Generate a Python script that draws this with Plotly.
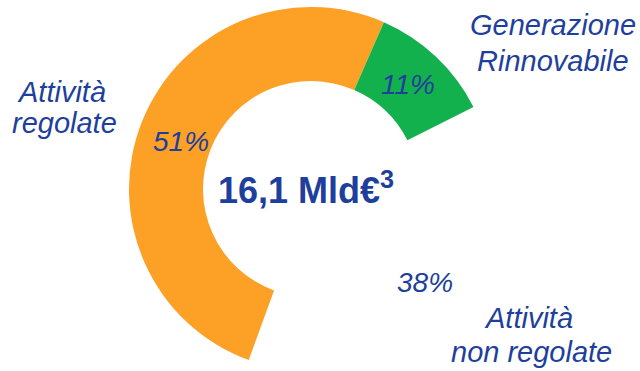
import plotly.graph_objects as go

W, H = 640, 371

# Data
categories = ["Attività regolate", "Attività non regolate", "Generazione Rinnovabile"]
shares = [51, 38, 11]
pct_labels = ["51%", "38%", "11%"]
total_label = "16,1 Mld€<sup>3</sup>"

slice_colors = ["#FCA126", "rgba(0,0,0,0)", "#13B14E"]
TXT = "#1E3F9B"
FONT = "Liberation Sans, Arial, sans-serif"

def px(x):
    return x / W

def py(y):
    return 1 - y / H

cx, R = 311, 182
cy = H - R  # pie centre so that the domain can start at the bottom edge

fig = go.Figure(go.Pie(
    labels=categories,
    values=shares,
    sort=False,
    direction="counterclockwise",
    rotation=200,
    hole=108 / R,
    textinfo="none",
    hoverinfo="label+percent",
    marker=dict(colors=slice_colors, line=dict(width=0)),
    domain=dict(x=[px(cx - R), px(cx + R)], y=[0, py(cy - R)]),
    showlegend=False,
))

def add_text(text, x, baseline, size, bold=False, italic=True):
    t = text
    if bold:
        t = "<b>" + t + "</b>"
    if italic:
        t = "<i>" + t + "</i>"
    fig.add_annotation(
        text=t, x=px(x), y=py(baseline - 0.36 * size),
        xref="paper", yref="paper", xanchor="center", yanchor="middle",
        showarrow=False, font=dict(family=FONT, size=size, color=TXT),
    )

FS = 29
# category labels (one line each)
add_text("Attività", 61, 102, FS)
add_text("regolate", 64, 133, FS)
add_text("Generazione", 553, 35, FS)
add_text("Rinnovabile", 553, 71, FS)
add_text("Attività", 528, 328, FS)
add_text("non regolate", 531, 362, FS)
# percentages
add_text(pct_labels[0], 181, 152, 28)
add_text(pct_labels[2], 408, 95, 28)
add_text(pct_labels[1], 425, 293, 28)
# total
fig.add_annotation(
    text="<b>" + total_label + "</b>", x=px(306), y=py(188),
    xref="paper", yref="paper", xanchor="center", yanchor="middle",
    showarrow=False, font=dict(family=FONT, size=36, color=TXT),
)

fig.update_layout(
    width=W, height=H,
    margin=dict(l=0, r=0, t=0, b=0),
    paper_bgcolor="white", plot_bgcolor="white",
)

fig.write_html("out.html")
